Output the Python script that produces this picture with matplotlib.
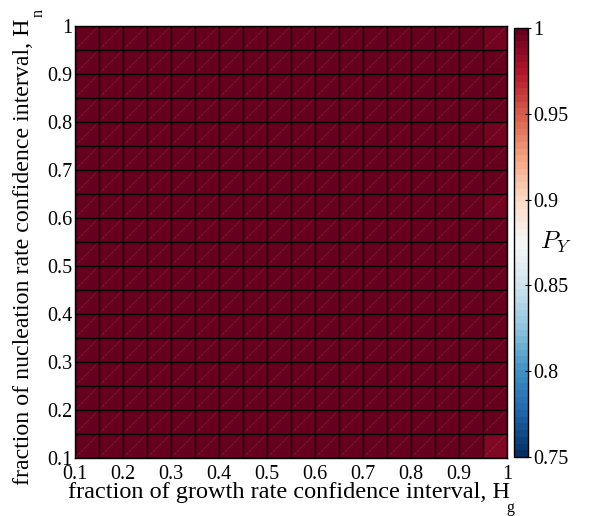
import numpy as np
import matplotlib
matplotlib.use('Agg')
import matplotlib.pyplot as plt

plt.rcParams['font.family'] = 'Liberation Serif'
plt.rcParams['mathtext.fontset'] = 'custom'
plt.rcParams['mathtext.rm'] = 'Liberation Serif'

# cell edges (fraction of confidence interval)
hg_edges = [0.1, 0.15, 0.2, 0.25, 0.3, 0.35, 0.4, 0.45, 0.5, 0.55,
            0.6, 0.65, 0.7, 0.75, 0.8, 0.85, 0.9, 0.95, 1.0]
hn_edges = [0.1, 0.15, 0.2, 0.25, 0.3, 0.35, 0.4, 0.45, 0.5, 0.55,
            0.6, 0.65, 0.7, 0.75, 0.8, 0.85, 0.9, 0.95, 1.0]

# P_Y, rows from Hn=0.1 (bottom) to Hn=1 (top), columns Hg=0.1 .. 1
py_rows = [
    [0.999, 0.999, 0.999, 0.999, 0.999, 0.999, 0.999, 0.999, 0.999, 0.999, 0.999, 0.999, 0.999, 0.999, 0.999, 0.999, 0.998, 0.990],
    [0.999, 0.999, 0.999, 0.999, 0.999, 0.999, 0.999, 0.999, 0.999, 0.999, 0.999, 0.999, 0.999, 0.999, 0.999, 0.999, 0.998, 0.997],
    [0.999, 0.999, 0.999, 0.999, 0.999, 0.999, 0.999, 0.999, 0.999, 0.999, 0.999, 0.999, 0.999, 0.999, 0.999, 0.999, 0.998, 0.998],
    [0.999, 0.999, 0.999, 0.999, 0.999, 0.999, 0.999, 0.999, 0.999, 0.999, 0.999, 0.999, 0.999, 0.999, 0.999, 0.999, 0.998, 0.998],
    [0.999, 0.999, 0.999, 0.999, 0.999, 0.999, 0.999, 0.999, 0.999, 0.999, 0.999, 0.999, 0.999, 0.999, 0.999, 0.999, 0.998, 0.997],
    [0.999, 0.999, 0.999, 0.999, 0.999, 0.999, 0.999, 0.999, 0.999, 0.999, 0.999, 0.999, 0.999, 0.999, 0.999, 0.999, 0.998, 0.998],
    [0.999, 0.999, 0.999, 0.999, 0.999, 0.999, 0.999, 0.999, 0.999, 0.999, 0.999, 0.999, 0.999, 0.999, 0.999, 0.999, 0.998, 0.998],
    [0.999, 0.999, 0.999, 0.999, 0.999, 0.999, 0.999, 0.999, 0.999, 0.999, 0.999, 0.999, 0.999, 0.999, 0.999, 0.999, 0.998, 0.998],
    [0.999, 0.999, 0.999, 0.999, 0.999, 0.999, 0.999, 0.999, 0.999, 0.999, 0.999, 0.999, 0.999, 0.999, 0.999, 0.999, 0.998, 0.997],
    [0.999, 0.999, 0.999, 0.999, 0.999, 0.999, 0.999, 0.999, 0.999, 0.999, 0.999, 0.999, 0.999, 0.999, 0.999, 0.999, 0.998, 0.998],
    [0.999, 0.999, 0.999, 0.999, 0.999, 0.999, 0.999, 0.999, 0.999, 0.999, 0.999, 0.999, 0.999, 0.999, 0.999, 0.999, 0.998, 0.994],
    [0.999, 0.999, 0.999, 0.999, 0.999, 0.999, 0.999, 0.999, 0.999, 0.999, 0.999, 0.999, 0.999, 0.999, 0.999, 0.999, 0.998, 0.998],
    [0.999, 0.999, 0.999, 0.999, 0.999, 0.999, 0.999, 0.999, 0.999, 0.999, 0.999, 0.999, 0.999, 0.999, 0.999, 0.999, 0.998, 0.997],
    [0.999, 0.999, 0.999, 0.999, 0.999, 0.999, 0.999, 0.999, 0.999, 0.999, 0.999, 0.999, 0.999, 0.999, 0.999, 0.999, 0.998, 0.994],
    [0.999, 0.999, 0.999, 0.999, 0.999, 0.999, 0.999, 0.999, 0.999, 0.999, 0.999, 0.999, 0.999, 0.999, 0.999, 0.999, 0.998, 0.998],
    [0.999, 0.999, 0.999, 0.999, 0.999, 0.999, 0.999, 0.999, 0.999, 0.999, 0.999, 0.999, 0.999, 0.999, 0.999, 0.999, 0.998, 0.997],
    [0.999, 0.999, 0.999, 0.999, 0.999, 0.999, 0.999, 0.999, 0.999, 0.999, 0.999, 0.999, 0.999, 0.999, 0.999, 0.999, 0.998, 0.997],
    [0.999, 0.999, 0.999, 0.999, 0.999, 0.999, 0.999, 0.999, 0.999, 0.999, 0.999, 0.999, 0.999, 0.999, 0.999, 0.999, 0.998, 0.993],
]

tick_vals = [0.1, 0.2, 0.3, 0.4, 0.5, 0.6, 0.7, 0.8, 0.9, 1.0]
tick_labels = ['0.1', '0.2', '0.3', '0.4', '0.5', '0.6', '0.7', '0.8', '0.9', '1']
cb_ticks = [0.75, 0.8, 0.85, 0.9, 0.95, 1.0]
cb_labels = ['0.75', '0.8', '0.85', '0.9', '0.95', '1']

W, H = 603, 516
fig = plt.figure(figsize=(W/100, H/100), dpi=100)
# 432 px = 18 cells of 24 px, so every grid line lands on the same pixel phase
ax = fig.add_axes([75/W, 58/H, 432/W, 432/H])
cax = fig.add_axes([514/W, 59/H, 14/W, 429/H])

cmap = plt.get_cmap('RdBu_r', 64)
Z = np.array(py_rows)
mesh = ax.pcolormesh(hg_edges, hn_edges, Z, cmap=cmap, vmin=0.75, vmax=1.0,
                     edgecolors='none')

# faint dotted diagonal in each cell (triangulated surface look)
for j in range(len(hn_edges) - 1):
    for i in range(len(hg_edges) - 1):
        ax.plot([hg_edges[i], hg_edges[i+1]], [hn_edges[j], hn_edges[j+1]],
                color='#f0a0b0', alpha=0.3, lw=0.5, ls=(0, (1.5, 1.5)))

# black cell borders
ax.vlines(hg_edges, hn_edges[0], hn_edges[-1], color='k', lw=1.0, snap=True)
ax.hlines(hn_edges, hg_edges[0], hg_edges[-1], color='k', lw=1.0, snap=True)

ax.set_xlim(0.1, 1.0)
ax.set_ylim(0.1, 1.0)
ax.set_xticks(tick_vals)
ax.set_xticklabels(tick_labels)
ax.set_yticks(tick_vals)
ax.set_yticklabels(tick_labels)
ax.tick_params(length=0, labelsize=14.5)
ax.tick_params(axis='x', pad=5)
ax.tick_params(axis='y', pad=2)
for s in ax.spines.values():
    s.set_linewidth(1.0)

xl = ax.set_xlabel('fraction of growth rate confidence interval, H',
                   fontsize=17.5)
yl = ax.set_ylabel('fraction of nucleation rate confidence interval, H',
                   fontsize=17.2)
ax.xaxis.set_label_coords(0.495, -0.056)
ax.yaxis.set_label_coords(-0.095, 0.478)

cb = fig.colorbar(mesh, cax=cax, ticks=cb_ticks)
cb.ax.set_yticklabels(cb_labels)
cb.ax.tick_params(direction='inout', length=5, width=0.8, labelsize=14.5, pad=1)
cb.outline.set_linewidth(1.0)
cax.text(3.0, 0.5, '$P_Y$', transform=cax.transAxes, fontsize=18,
         ha='center', va='center', math_fontfamily='cm')

# low-set subscripts after the H in both axis labels
fig.canvas.draw()
bx = xl.get_window_extent()
fig.text((bx.x1 - 3) / W, (bx.y0 + 0.216 * 17.5 * 100 / 72 - 14) / H, 'g',
         fontsize=11.5, ha='left', va='baseline')
by = yl.get_window_extent()
fig.text((by.x1 - 0.216 * 17.2 * 100 / 72 + 14) / W, (by.y1 + 1) / H, 'n',
         fontsize=11.5, rotation=90, rotation_mode='anchor',
         ha='left', va='baseline')

fig.savefig('out.png', dpi=100)
